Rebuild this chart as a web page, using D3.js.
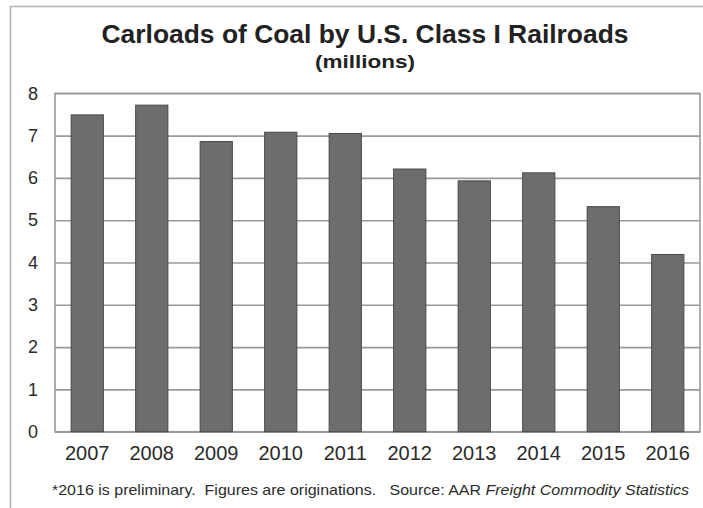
<!DOCTYPE html>
<html>
<head>
<meta charset="utf-8">
<script src="https://cdn.jsdelivr.net/npm/d3@7"></script>
<style>
  html, body { margin: 0; padding: 0; background: #fff; }
  svg { display: block; font-family: "Liberation Sans", Arial, sans-serif; }
</style>
</head>
<body>
<svg id="chart" width="703" height="508"></svg>
<script>
// Coal carloads originated by U.S. Class I railroads, millions per year
const years = ["2007", "2008", "2009", "2010", "2011", "2012", "2013", "2014", "2015", "2016"];
const carloads = [7.49, 7.72, 6.86, 7.08, 7.05, 6.21, 5.93, 6.12, 5.32, 4.19];
const yTicks = [0, 1, 2, 3, 4, 5, 6, 7, 8];

const titleText = "Carloads of Coal by U.S. Class I Railroads";
const subtitleText = "(millions)";
const notePlain = "*2016 is preliminary.  Figures are originations.   Source: AAR ";
const noteItalic = "Freight Commodity Statistics";

const svg = d3.select("#chart");
const W = 703, H = 508;
const plot = { left: 55, right: 700, top: 93.3, bottom: 431.7 };

// outer chart frame
svg.append("rect")
  .attr("x", 10.5).attr("y", 6.5)
  .attr("width", W).attr("height", H)
  .attr("fill", "#fff")
  .attr("stroke", "#b0b0b0").attr("stroke-width", 1.5);

const x = d3.scaleBand()
  .domain(years)
  .range([plot.left, plot.right])
  .paddingInner(0.5)
  .paddingOuter(0.25);

const y = d3.scaleLinear()
  .domain([0, 8])
  .range([plot.bottom, plot.top]);

// horizontal gridlines
svg.append("g")
  .attr("transform", `translate(${plot.left},0)`)
  .call(d3.axisLeft(y).tickValues(yTicks).tickSize(-(plot.right - plot.left)).tickFormat(""))
  .call(g => g.select(".domain").remove())
  .call(g => g.selectAll(".tick line").attr("stroke", "#9a9a9a").attr("stroke-width", 1.6));

// plot-area frame
svg.append("rect")
  .attr("x", plot.left).attr("y", plot.top)
  .attr("width", plot.right - plot.left).attr("height", plot.bottom - plot.top)
  .attr("fill", "none")
  .attr("stroke", "#9a9a9a").attr("stroke-width", 1.6);

// bars
svg.append("g")
  .selectAll("rect")
  .data(years.map((yr, i) => ({ yr, v: carloads[i] })))
  .join("rect")
  .attr("x", d => x(d.yr))
  .attr("y", d => y(d.v))
  .attr("width", x.bandwidth())
  .attr("height", d => y(0) - y(d.v))
  .attr("fill", "#6d6d6d")
  .attr("stroke", "#4a4a4a")
  .attr("stroke-width", 1);

// y axis labels
svg.append("g")
  .attr("transform", `translate(${plot.left},0)`)
  .call(d3.axisLeft(y).tickValues(yTicks).tickSize(0).tickPadding(17).tickFormat(d3.format("d")))
  .call(g => g.select(".domain").remove())
  .call(g => g.selectAll("text")
    .attr("font-size", 18).attr("fill", "#2b2b2b")
    .attr("font-family", "'Liberation Sans', Arial, sans-serif"));

// x axis labels
svg.append("g")
  .attr("transform", `translate(0,${plot.bottom})`)
  .call(d3.axisBottom(x).tickSize(0).tickPadding(14))
  .call(g => g.select(".domain").remove())
  .call(g => g.selectAll("text")
    .attr("font-size", 20).attr("fill", "#2b2b2b")
    .attr("font-family", "'Liberation Sans', Arial, sans-serif"));

// titles
svg.append("text")
  .attr("x", 365).attr("y", 43.3)
  .attr("text-anchor", "middle")
  .attr("font-size", 26).attr("font-weight", "bold").attr("fill", "#222")
  .attr("textLength", 527).attr("lengthAdjust", "spacingAndGlyphs")
  .text(titleText);

svg.append("text")
  .attr("x", 365).attr("y", 68)
  .attr("text-anchor", "middle")
  .attr("font-size", 19).attr("font-weight", "bold").attr("fill", "#222")
  .attr("textLength", 100).attr("lengthAdjust", "spacingAndGlyphs")
  .text(subtitleText);

// source note
const note = svg.append("text")
  .attr("x", 52).attr("y", 495)
  .attr("font-size", 15).attr("fill", "#2b2b2b")
  .attr("textLength", 637).attr("lengthAdjust", "spacingAndGlyphs")
  .attr("xml:space", "preserve")
  .style("white-space", "pre");
note.append("tspan").text(notePlain);
note.append("tspan").attr("font-style", "italic").text(noteItalic);
</script>
</body>
</html>
